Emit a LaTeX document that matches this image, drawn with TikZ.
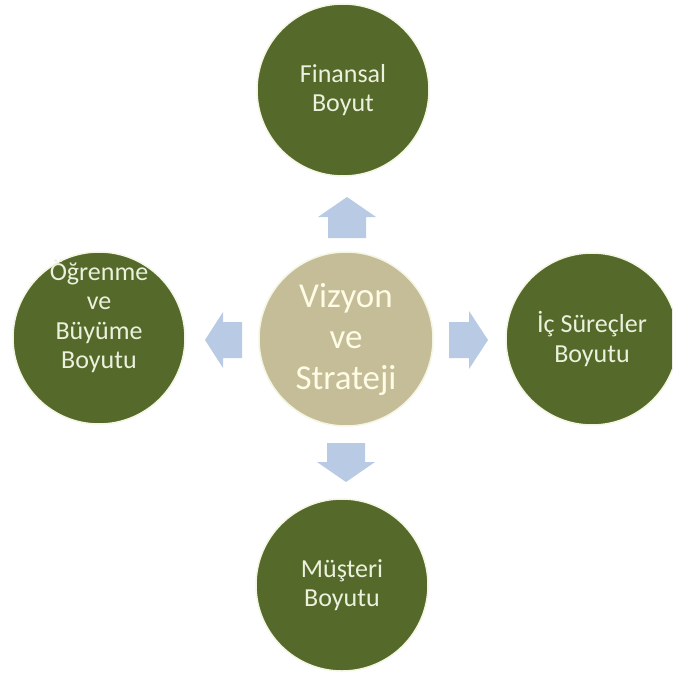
\documentclass[tikz,border=0pt]{standalone}
\usepackage{fontspec}
\setmainfont{Carlito}
\definecolor{olivedark}{HTML}{55692A}
\definecolor{tanbg}{HTML}{C4BD97}
\definecolor{arrowblue}{HTML}{B9CBE4}
\definecolor{creamtxt}{HTML}{EBF1DC}
\definecolor{creamline}{HTML}{F4F6E4}
\definecolor{centertxt}{HTML}{FFFCE6}
\begin{document}
\begin{tikzpicture}[x=1pt,y=-1pt,
  dimcircle/.style={circle, fill=olivedark, draw=creamline, line width=1.5pt,
    minimum size=172pt, inner sep=0pt, text=creamtxt, align=center,
    font=\fontsize{26}{29.5}\selectfont},
  dimtext/.style={text=creamtxt, align=center, inner sep=0pt,
    font=\fontsize{26}{29.5}\selectfont},
  corecircle/.style={circle, fill=tanbg, draw=creamline, line width=1.5pt,
    minimum size=174pt, inner sep=0pt, text=centertxt, align=center,
    font=\fontsize{35}{41}\selectfont},
  blockarrow/.style={fill=arrowblue, draw=none}]
\useasboundingbox (0,0) rectangle (672,677);
\clip (0,0) rectangle (672,677);
\fill[white] (0,0) rectangle (672,677);

\node[corecircle] (core) at (346,339) {Vizyon\\ve\\Strateji};
\node[dimcircle] (fin) at (343,90) {Finansal\\Boyut};
\node[dimcircle] (ogr) at (99,338) {};
\node[dimtext] (ogrtext) at (99,316) {Öğrenme\\ve\\Büyüme\\Boyutu};
\node[dimcircle] (ic) at (592,339) {İç Süreçler\\Boyutu};
\node[dimcircle] (mus) at (342,585) {Müşteri\\Boyutu};

% up arrow
\fill[blockarrow] (328,238) -- (328,217) -- (318,217) -- (347,197) -- (376,217) -- (366,217) -- (366,238) -- cycle;
% down arrow
\fill[blockarrow] (327,443) -- (327,462) -- (317,462) -- (346,482) -- (375,462) -- (365,462) -- (365,443) -- cycle;
% left arrow
\fill[blockarrow] (242,322) -- (223,322) -- (223,312) -- (205,340) -- (223,368) -- (223,358) -- (242,358) -- cycle;
% right arrow
\fill[blockarrow] (449,322) -- (469,322) -- (469,311) -- (488,340) -- (469,369) -- (469,358) -- (449,358) -- cycle;
\end{tikzpicture}
\end{document}
